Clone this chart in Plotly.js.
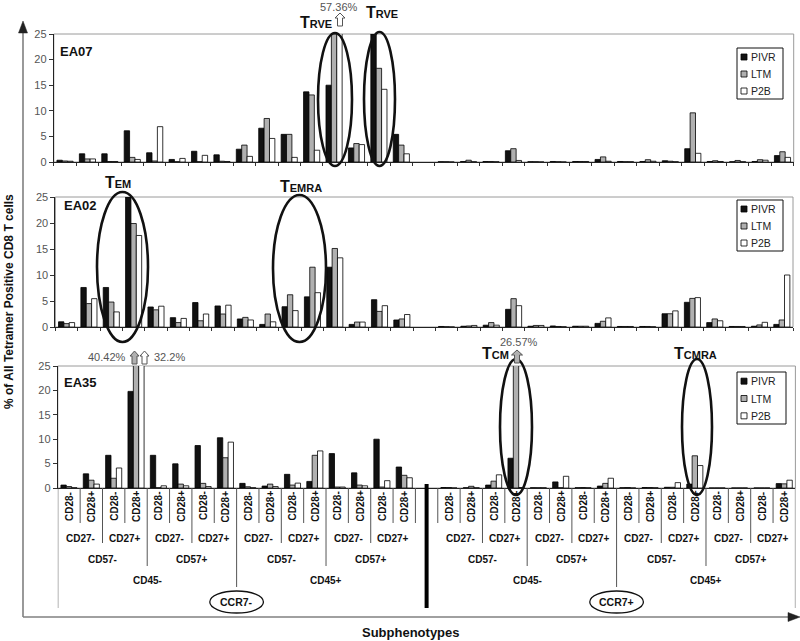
<!DOCTYPE html>
<html><head><meta charset="utf-8">
<script src="https://cdn.plot.ly/plotly-3.0.1.min.js"></script>
<style>html,body{margin:0;padding:0;background:#fff}#chart{width:800px;height:641px}</style>
</head><body><div id="chart"></div>
<script>
// ---------- data ----------
const series = ['PIVR', 'LTM', 'P2B'];
const panels = ['EA07', 'EA02', 'EA35'];
const ccr7Labels = ['CCR7-', 'CCR7+'];
const cd45Labels = ['CD45-', 'CD45+'];
const cd57Labels = ['CD57-', 'CD57+'];
const cd27Labels = ['CD27-', 'CD27+'];
const cd28Labels = ['CD28-', 'CD28+'];

// 32 subphenotypes: CCR7- (16) then CCR7+ (16); within each: CD45 x CD57 x CD27 x CD28
const ea07_PIVR = [0.35,1.6,1.6,6.1,1.8,0.5,2.1,1.4,2.5,6.6,5.4,13.7,15.0,2.75,25.0,5.4,
                   0.05,0.1,0.1,2.2,0.05,0.1,0.1,0.5,0.1,0.1,0.25,2.6,0.1,0.05,0.1,1.25];
const ea07_LTM  = [0.2,0.6,0.1,0.9,0.2,0.05,0.05,0.15,3.3,8.5,5.4,13.1,25.0,3.6,18.3,3.3,
                   0.05,0.35,0.1,2.6,0.05,0.05,0.1,1.0,0.05,0.45,0.15,9.6,0.25,0.3,0.45,2.0];
const ea07_P2B  = [0.15,0.6,0.1,0.5,6.9,0.7,1.3,0.1,1.1,4.6,0.9,2.3,57.36,3.4,14.2,1.6,
                   0,0.05,0.05,0.3,0,0,0.1,0.15,0.05,0.15,0.05,1.7,0.1,0.05,0.35,0.9];

const ea02_PIVR = [1.0,7.6,7.6,25.0,3.85,1.8,4.7,4.05,1.55,0.5,3.9,5.8,11.5,0.5,5.25,1.35,
                   0.1,0.15,0.35,3.4,0.15,0.2,0.15,0.7,0.1,0.1,2.55,4.75,0.85,0.1,0.15,0.5];
const ea02_LTM  = [0.65,4.5,4.8,19.9,3.3,0.85,1.2,2.5,1.85,2.5,6.2,11.5,15.1,0.95,3.0,1.55,
                   0.05,0.2,0.85,5.45,0.3,0.1,0.15,1.1,0.1,0.1,2.55,5.5,1.55,0.1,0.4,1.35];
const ea02_P2B  = [0.85,5.45,2.9,17.6,4.0,1.65,2.5,4.2,1.35,1.0,3.15,6.6,13.3,0.95,4.1,2.4,
                   0,0.3,0.35,4.1,0.3,0.05,0.15,1.75,0.1,0.05,3.1,5.65,1.2,0.1,0.9,10.0];

const ea35_PIVR = [0.6,2.9,6.7,19.8,6.7,4.95,8.7,10.3,0.95,0.4,2.8,1.35,7.05,3.1,10.0,4.3,
                   0.1,0.05,0.6,6.1,0.05,1.25,0.05,0.4,0.05,0.1,0.15,0.8,0,0,0,0.9];
const ea35_LTM  = [0.3,1.6,2.0,40.42,0.05,0.8,0.95,6.2,0.25,0.8,0.6,6.7,0.2,0.6,0.2,2.6,
                   0.1,0.35,1.4,26.57,0.05,0.05,0.1,0.95,0.1,0.1,0.15,6.6,0,0,0,0.85];
const ea35_P2B  = [0.05,0.8,4.1,32.2,0.45,0.45,0.3,9.4,0.05,0.3,1.0,7.6,0.2,0.45,1.5,2.1,
                   0,0.05,2.7,0.1,0.05,2.4,0.05,2.0,0,0.05,1.1,4.6,0,0,0,1.6];

// ---------- build ----------
const W = 800, H = 641;
const PX = x => x / W;
const PY = y => 1 - y / H;
const FONT = 'Liberation Sans, Arial, sans-serif';

const panelData = [
  [ea07_PIVR, ea07_LTM, ea07_P2B],
  [ea02_PIVR, ea02_LTM, ea02_P2B],
  [ea35_PIVR, ea35_LTM, ea35_P2B]
];
const colors = ['#111111', '#b0b0b0', '#ffffff'];
const xs = ea07_PIVR.map((_, i) => i < 16 ? i : i + 1);

const traces = [];
panelData.forEach((arrs, p) => {
  arrs.forEach((vals, s) => {
    traces.push({
      type: 'bar', name: series[s], x: xs, y: vals,
      xaxis: p === 0 ? 'x' : 'x' + (p + 1),
      yaxis: p === 0 ? 'y' : 'y' + (p + 1),
      marker: { color: colors[s], line: { color: '#000', width: 0.8 } },
      showlegend: false, hoverinfo: 'x+y+name'
    });
  });
});

const boundaries = [];
for (let b = -0.5; b <= 32.5; b += 1) boundaries.push(b);

function xax(dom, anchor, ticks) {
  return { domain: dom, anchor: anchor, range: [-0.5, 32.5], showline: true, linecolor: '#222', linewidth: 1,
    tickvals: boundaries, ticks: ticks, ticklen: 3, tickcolor: '#333', showticklabels: false,
    showgrid: false, zeroline: false, fixedrange: true };
}
function yax(dom, anchor) {
  return { domain: dom, anchor: anchor, range: [0, 25], tickvals: [0, 5, 10, 15, 20, 25],
    ticks: 'outside', ticklen: 4, tickcolor: '#333', showline: true, linecolor: '#222', linewidth: 1,
    showgrid: false, zeroline: false, fixedrange: true,
    tickfont: { family: FONT, size: 11, color: '#555' } };
}

const shapes = [];
const annotations = [];

// plot borders (gray)
['x', 'x2', 'x3'].forEach((xa, i) => {
  const ya = i === 0 ? 'y' : 'y' + (i + 1);
  shapes.push({ type: 'rect', xref: xa + ' domain', yref: ya + ' domain', x0: 0, x1: 1, y0: 0, y1: 1,
    line: { color: '#9a9a9a', width: 1 }, layer: 'below' });
});

// outer frame with arrows
shapes.push({ type: 'line', xref: 'paper', yref: 'paper', x0: PX(23), x1: PX(23), y0: PY(617), y1: PY(30),
  line: { color: '#808080', width: 1.6 } });
shapes.push({ type: 'line', xref: 'paper', yref: 'paper', x0: PX(23), x1: PX(790), y0: PY(617), y1: PY(617),
  line: { color: '#808080', width: 1.6 } });
shapes.push({ type: 'path', xref: 'paper', yref: 'paper', fillcolor: '#222', line: { color: '#222', width: 0.5 },
  path: `M${PX(23)},${PY(21)} L${PX(18.5)},${PY(33)} L${PX(27.5)},${PY(33)} Z` });
shapes.push({ type: 'path', xref: 'paper', yref: 'paper', fillcolor: '#222', line: { color: '#222', width: 0.5 },
  path: `M${PX(800)},${PY(617)} L${PX(788)},${PY(612.5)} L${PX(788)},${PY(621.5)} Z` });

// EA35 category separators (hierarchy lines)
const lineCol = '#555';
const lvlY = { cd28: 523, cd27: 543, cd57: 566, cd45: 587, edge: 608 };
[0, 17].forEach(base => {
  for (let j = -1; j <= 15; j++) {
    let y;
    if (j === -1) y = base === 0 ? lvlY.edge : lvlY.cd28;
    else if (j === 15) y = base === 0 ? lvlY.cd28 : lvlY.edge;
    else if ((j + 1) % 8 === 0) y = lvlY.cd45;
    else if ((j + 1) % 4 === 0) y = lvlY.cd57;
    else if ((j + 1) % 2 === 0) y = lvlY.cd27;
    else y = lvlY.cd28;
    shapes.push({ type: 'line', xref: 'x3', yref: 'paper', x0: base + j + 0.5, x1: base + j + 0.5,
      y0: PY(488), y1: PY(y), line: { color: lineCol, width: 1 } });
  }
});
// thick divider between CCR7- and CCR7+
shapes.push({ type: 'line', xref: 'x3', yref: 'paper', x0: 16, x1: 16, y0: PY(484), y1: PY(608),
  line: { color: '#000', width: 4 } });

// bottom hierarchical labels
const lblFont = { family: FONT, size: 10, color: '#111' };
[0, 17].forEach((base, c) => {
  for (let j = 0; j < 16; j++) {
    annotations.push({ xref: 'x3', yref: 'paper', x: base + j, y: PY(506), text: '<b>' + cd28Labels[j % 2] + '</b>',
      textangle: -90, showarrow: false, font: lblFont });
  }
  for (let p = 0; p < 8; p++) {
    annotations.push({ xref: 'x3', yref: 'paper', x: base + 2 * p + 0.5, y: PY(538), text: '<b>' + cd27Labels[p % 2] + '</b>',
      showarrow: false, font: lblFont });
  }
  for (let q = 0; q < 4; q++) {
    annotations.push({ xref: 'x3', yref: 'paper', x: base + 4 * q + 1.5, y: PY(559), text: '<b>' + cd57Labels[q % 2] + '</b>',
      showarrow: false, font: lblFont });
  }
  for (let r = 0; r < 2; r++) {
    annotations.push({ xref: 'x3', yref: 'paper', x: base + 8 * r + 3.5, y: PY(580), text: '<b>' + cd45Labels[r] + '</b>',
      showarrow: false, font: lblFont });
  }
  annotations.push({ xref: 'x3', yref: 'paper', x: base + 7.5, y: PY(602), text: '<b>' + ccr7Labels[c] + '</b>',
    showarrow: false, font: { family: FONT, size: 10.5, color: '#111' } });
  shapes.push({ type: 'circle', xref: 'x3', yref: 'paper', x0: base + 6.3, x1: base + 8.7, y0: PY(591), y1: PY(613),
    line: { color: '#111', width: 1.3 } });
});

// ellipses around highlighted groups
function ell(x0, x1, y0, y1) {
  shapes.push({ type: 'circle', xref: 'paper', yref: 'paper', x0: PX(x0), x1: PX(x1), y0: PY(y1), y1: PY(y0),
    line: { color: '#111', width: 2.6 } });
}
ell(318, 352, 33, 166);
ell(364, 395, 32, 166);
ell(97, 148, 192, 342);
ell(273, 326, 195, 342);
ell(500, 532, 359, 495);
ell(682, 712, 359, 495);

// block arrows for off-scale values
function blockArrow(cx, top, bottom, hw, fill) {
  const sw = 2.5, hh = 5;
  const pts = [[cx - sw, bottom], [cx - sw, top + hh], [cx - hw, top + hh], [cx, top], [cx + hw, top + hh], [cx + sw, top + hh], [cx + sw, bottom]];
  shapes.push({ type: 'path', xref: 'paper', yref: 'paper', fillcolor: fill, line: { color: '#555', width: 1 },
    path: 'M' + pts.map(p => PX(p[0]) + ',' + PY(p[1])).join(' L') + ' Z' });
}
blockArrow(340, 13, 26, 5, '#ffffff');
blockArrow(134.5, 351, 364, 4.5, '#b0b0b0');
blockArrow(144.5, 351, 364, 4.5, '#ffffff');
blockArrow(517, 350, 363, 5.5, '#b0b0b0');

const pctFont = { family: FONT, size: 11, color: '#555' };
annotations.push({ xref: 'paper', yref: 'paper', x: PX(339), y: PY(7), text: ea07_P2B[12].toFixed(2) + '%', showarrow: false, font: pctFont });
annotations.push({ xref: 'paper', yref: 'paper', x: PX(128), y: PY(357), xanchor: 'right', text: ea35_LTM[3].toFixed(2) + '%', showarrow: false, font: pctFont });
annotations.push({ xref: 'paper', yref: 'paper', x: PX(152), y: PY(357), xanchor: 'left', text: ea35_P2B[3] + '%', showarrow: false, font: pctFont });
annotations.push({ xref: 'paper', yref: 'paper', x: PX(519), y: PY(342), text: ea35_LTM[19].toFixed(2) + '%', showarrow: false, font: pctFont });

// subset names (T + small caps)
function tLabel(cx, cy, rest) {
  annotations.push({ xref: 'paper', yref: 'paper', x: PX(cx), y: PY(cy), showarrow: false,
    text: '<b>T<span style="font-size:11px">' + rest + '</span></b>',
    font: { family: FONT, size: 16, color: '#111' } });
}
tLabel(316, 22, 'RVE');
tLabel(382, 12, 'RVE');
tLabel(118, 182, 'EM');
tLabel(301, 187, 'EMRA');
tLabel(495, 354, 'CM');
tLabel(695, 354, 'CMRA');

// panel names
[[58, 51], [62, 206], [62, 382]].forEach((pos, i) => {
  annotations.push({ xref: 'paper', yref: 'paper', x: PX(pos[0]), y: PY(pos[1]), xanchor: 'left',
    text: '<b>' + panels[i] + '</b>', showarrow: false, font: { family: FONT, size: 13, color: '#111' } });
});

// manual legends
[[737, 48, 46, 51], [737, 200, 46, 51], [737, 372, 49, 52]].forEach(([x0, y0, w, h]) => {
  shapes.push({ type: 'rect', xref: 'paper', yref: 'paper', x0: PX(x0), x1: PX(x0 + w), y0: PY(y0 + h), y1: PY(y0),
    line: { color: '#111', width: 1 }, fillcolor: '#fff' });
  const step = h / 3;
  series.forEach((s, k) => {
    const cy = y0 + step * (k + 0.5) + 0.5;
    shapes.push({ type: 'rect', xref: 'paper', yref: 'paper', x0: PX(x0 + 4), x1: PX(x0 + 10), y0: PY(cy + 3), y1: PY(cy - 3),
      line: { color: '#000', width: 0.8 }, fillcolor: colors[k] });
    annotations.push({ xref: 'paper', yref: 'paper', x: PX(x0 + 12), y: PY(cy), xanchor: 'left', text: s,
      showarrow: false, font: { family: FONT, size: 10.5, color: '#222' } });
  });
});

// axis titles
annotations.push({ xref: 'paper', yref: 'paper', x: PX(9), y: PY(302), textangle: -90, showarrow: false,
  text: '<b>% of All Tetramer Positive CD8 T cells</b>', font: { family: FONT, size: 12, color: '#111' } });
annotations.push({ xref: 'paper', yref: 'paper', x: PX(411), y: PY(632), showarrow: false,
  text: '<b>Subphenotypes</b>', font: { family: FONT, size: 13, color: '#111' } });

// explicit anchoring (avoid Plotly 'auto' anchoring for paper positions)
annotations.forEach(a => {
  if (!a.xanchor) a.xanchor = 'center';
  if (!a.yanchor) a.yanchor = 'middle';
});

const layout = {
  width: W, height: H, margin: { l: 0, r: 0, t: 0, b: 0 },
  paper_bgcolor: '#fff', plot_bgcolor: '#fff',
  barmode: 'group', bargap: 0.28, bargroupgap: 0,
  showlegend: false,
  font: { family: FONT },
  xaxis: xax([53.8 / W, 793.7 / W], 'y', 'outside'),
  xaxis2: xax([55.4 / W, 793 / W], 'y2', 'outside'),
  xaxis3: xax([57.8 / W, 795.4 / W], 'y3', ''),
  yaxis: yax([1 - 162 / H, 1 - 34 / H], 'x'),
  yaxis2: yax([1 - 327 / H, 1 - 197 / H], 'x2'),
  yaxis3: yax([1 - 488 / H, 1 - 366 / H], 'x3'),
  shapes: shapes, annotations: annotations
};

Plotly.newPlot('chart', traces, layout, { displayModeBar: false, staticPlot: true });
</script>
</body></html>
